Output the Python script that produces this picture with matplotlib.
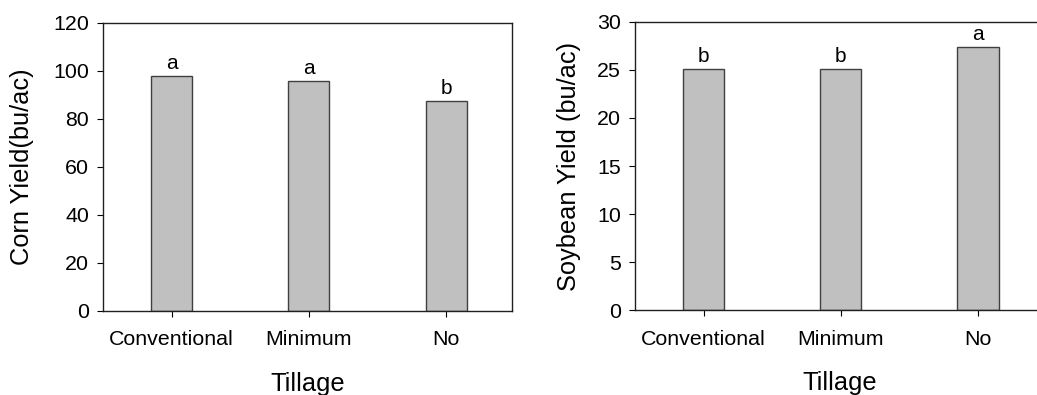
import matplotlib.pyplot as plt

plt.rcParams['font.family'] = ['Liberation Sans', 'DejaVu Sans']

tillage = ["Conventional", "Minimum", "No"]
corn_yield = [97.8, 95.8, 87.3]
corn_letters = ["a", "a", "b"]
soy_yield = [25.08, 25.08, 27.37]
soy_letters = ["b", "b", "a"]

fig = plt.figure(figsize=(10.37, 3.95), dpi=100)
ax1 = fig.add_axes([0.0993, 0.2127, 0.3944, 0.7298])
ax2 = fig.add_axes([0.6123, 0.2144, 0.3944, 0.7306])


def draw(ax, values, letters, ylabel, ymax, step, ylab_x):
    x = range(len(tillage))
    bars = ax.bar(x, values, width=0.3, color="#c0c0c0",
                  edgecolor="#404040", linewidth=1.0)
    for b, lab in zip(bars, letters):
        ax.annotate(lab, (b.get_x() + b.get_width() / 2, b.get_height()),
                    xytext=(0, 2), textcoords="offset points",
                    ha="center", va="bottom", fontsize=15)
    ax.set_xlim(-0.5, 2.48)
    ax.set_ylim(0, ymax)
    ax.set_yticks(range(0, ymax + 1, step))
    ax.set_xticks(list(x))
    ax.set_xticklabels(tillage)
    ax.tick_params(axis="x", length=4, pad=10, labelsize=15.4, direction="out")
    ax.tick_params(axis="y", length=4, pad=6, labelsize=15.4, direction="out")
    for s in ax.spines.values():
        s.set_linewidth(1.0)
        s.set_color("#202020")
    ax.set_ylabel(ylabel, fontsize=18.3)
    ax.yaxis.set_label_coords(ylab_x, 0.5)
    ax.set_xlabel("Tillage", fontsize=18.3, va="baseline")
    ax.xaxis.set_label_coords(0.5, -0.277)


draw(ax1, corn_yield, corn_letters, "Corn Yield(bu/ac)", 120, 20, -0.168)
draw(ax2, soy_yield, soy_letters, "Soybean Yield (bu/ac)", 30, 5, -0.132)

fig.savefig("out.png", dpi=100)
